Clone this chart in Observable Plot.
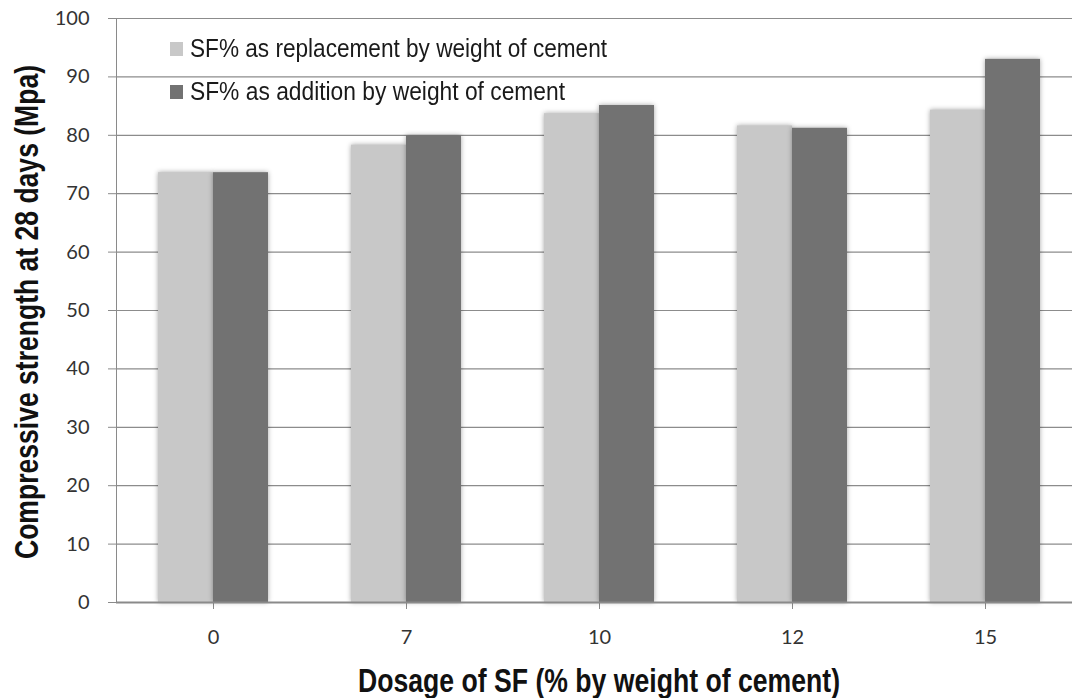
<!DOCTYPE html>
<html>
<head>
<meta charset="utf-8">
<script src="https://cdn.jsdelivr.net/npm/d3@7"></script>
<script src="https://cdn.jsdelivr.net/npm/@observablehq/plot@0.6"></script>
<style>
  html, body { margin: 0; padding: 0; background: #fff; }
  #wrap { position: relative; width: 1072px; height: 698px; overflow: hidden; }
  #wrap svg text { fill: #333; }
  #wrap g[aria-label="bar"] { filter: drop-shadow(0px 0px 2.5px rgba(0,0,0,0.35)); }
  .legend { position: absolute; left: 170px; font-family: "Liberation Sans", Arial, sans-serif; font-size: 25px; color: #1a1a1a; display: flex; align-items: center; white-space: nowrap; }
  .legend .sw { width: 13px; height: 14px; margin-right: 7px; flex: none; }
  .legend span { display: inline-block; transform-origin: left center; }
  .title { position: absolute; font-family: "Liberation Sans", Arial, sans-serif; font-weight: bold; font-size: 34px; color: #111; white-space: nowrap; transform-origin: center center; line-height: 1; }
</style>
</head>
<body>
<div id="wrap"></div>
<script>
const dosages = ["0", "7", "10", "12", "15"];
const replacement = [73.6, 78.3, 83.7, 81.6, 84.3];
const addition = [73.6, 79.9, 85.1, 81.2, 93.0];
const seriesNames = ["SF% as replacement by weight of cement", "SF% as addition by weight of cement"];
const seriesColors = ["#c8c8c8", "#727272"];
const yTicks = [0, 10, 20, 30, 40, 50, 60, 70, 80, 90, 100];
const xTitle = "Dosage of SF (% by weight of cement)";
const yTitle = "Compressive strength at 28 days (Mpa)";

const rows = [];
dosages.forEach((d, i) => {
  rows.push({dosage: d, series: seriesNames[0], value: replacement[i]});
  rows.push({dosage: d, series: seriesNames[1], value: addition[i]});
});

const chart = Plot.plot({
  width: 1072,
  height: 698,
  marginLeft: 116,
  marginRight: 0,
  marginTop: 18,
  marginBottom: 96,
  style: {color: "#8a8a8a", background: "#fff", fontFamily: "Lato, 'Open Sans', sans-serif", fontSize: "20px"},
  x: {domain: dosages, range: [116, 1082], paddingInner: 0.43, paddingOuter: 0.215, label: null, tickSize: 7, tickPadding: 20},
  y: {domain: [0, 100], ticks: yTicks, label: null, tickSize: 8, tickPadding: 19, line: true},
  marks: [
    Plot.ruleY(yTicks.filter(t => t > 0), {stroke: "#8c8c8c", strokeWidth: 1.2}),
    Plot.barY(rows.filter(r => r.series === seriesNames[0]), {x: "dosage", y: "value", fill: seriesColors[0], insetRight: 55}),
    Plot.barY(rows.filter(r => r.series === seriesNames[1]), {x: "dosage", y: "value", fill: seriesColors[1], insetLeft: 55}),
    Plot.ruleY([0], {stroke: "#8a8a8a", strokeWidth: 2})
  ]
});

const wrap = document.getElementById("wrap");
wrap.appendChild(chart);

const legendTargets = [417, 375];
seriesNames.forEach((name, i) => {
  const el = document.createElement("div");
  el.className = "legend";
  el.style.top = (i === 0 ? 34 : 77) + "px";
  el.innerHTML = `<div class="sw" style="background:${seriesColors[i]}"></div><span>${name}</span>`;
  wrap.appendChild(el);
  const sp = el.querySelector("span");
  const w = sp.getBoundingClientRect().width;
  sp.style.transform = `scaleX(${legendTargets[i] / w})`;
});

const xt = document.createElement("div");
xt.className = "title";
xt.textContent = xTitle;
xt.style.left = "599px";
xt.style.top = "680px";
wrap.appendChild(xt);
const xw = xt.getBoundingClientRect().width;
xt.style.transform = `translate(-50%, -50%) scaleX(${482 / xw})`;

const yt = document.createElement("div");
yt.className = "title";
yt.textContent = yTitle;
yt.style.left = "26px";
yt.style.top = "312px";
wrap.appendChild(yt);
const yw = yt.getBoundingClientRect().width;
yt.style.transform = `translate(-50%, -50%) rotate(-90deg) scaleX(${494 / yw})`;
</script>
</body>
</html>
